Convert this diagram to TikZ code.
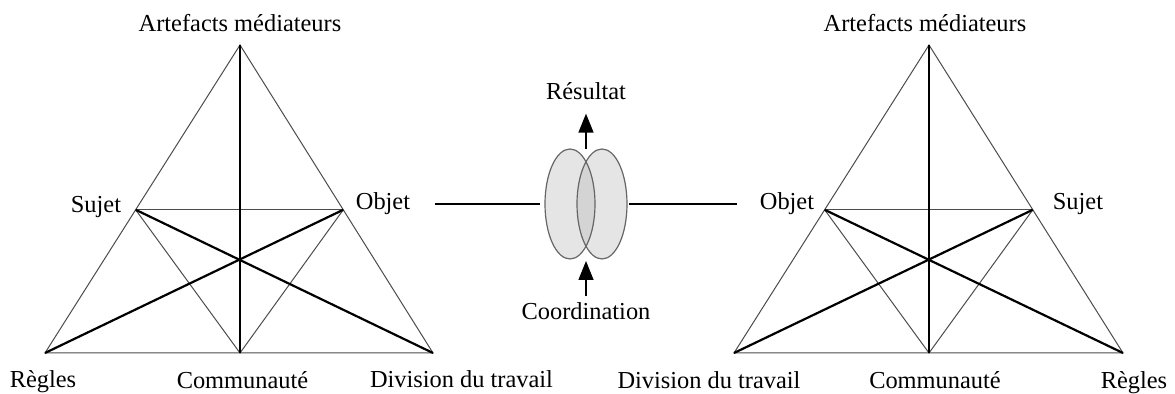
\documentclass[tikz,border=0pt]{standalone}
\usepackage{fontspec}
\setmainfont{Liberation Serif}
\usetikzlibrary{arrows.meta, calc, positioning, shapes.geometric}
\tikzset{
  thinline/.style={draw=black!70,line width=0.5pt},
  thickline/.style={draw=black,line width=1.1pt},
  lbl/.style={anchor=base,inner sep=0pt,font=\fontsize{12.2}{14}\selectfont},
  link/.style={draw=black,line width=0.75pt},
  flow/.style={draw=black,line width=0.75pt,-{Triangle[width=7.5pt,length=9.5pt]}},
  lobe/.style={ellipse,fill=black!10,minimum width=25pt,minimum height=55pt,inner sep=0pt,outer sep=0pt},
  lobeline/.style={draw=black!60,line width=0.6pt},
}
\begin{document}
\begin{tikzpicture}[x=0.5pt,y=-0.5pt]
	    \useasboundingbox (0,0) rectangle (1175,394);
	    % left activity system
	    \coordinate (lA) at (240,45);
	    \coordinate (lR) at (45,353);
	    \coordinate (lD) at (433,353);
	    \coordinate (lC) at (240,353);
	    \coordinate (lS) at ($(lA)!0.535!(lR)$);
	    \coordinate (lO) at ($(lA)!0.535!(lD)$);
	    \draw[thinline] (lA) -- (lR) -- (lD) -- cycle;
	    \draw[thinline] (lS) -- (lO);
	    \draw[thinline] (lS) -- (lC) -- (lO);
	    \draw[thickline] (lA) -- (lC);
	    \draw[thickline] (lS) -- (lD);
	    \draw[thickline] (lO) -- (lR);
	    \node[lbl] (lArt) at (240,32) {Artefacts médiateurs};
	    \node[lbl] (lSuj) at (96,213) {Sujet};
	    \node[lbl] (lObj) at (383,210) {Objet};
	    \node[lbl] (lReg) at (43,388) {Règles};
	    \node[lbl] (lCom) at (242.5,389) {Communauté};
	    \node[lbl] (lDiv) at (461.5,388) {Division du travail};
	    % right activity system
	    \coordinate (rA) at (929,45);
	    \coordinate (rD) at (734,353);
	    \coordinate (rR) at (1123,353);
	    \coordinate (rC) at (929,353);
	    \coordinate (rO) at ($(rA)!0.535!(rD)$);
	    \coordinate (rS) at ($(rA)!0.535!(rR)$);
	    \draw[thinline] (rA) -- (rD) -- (rR) -- cycle;
	    \draw[thinline] (rO) -- (rS);
	    \draw[thinline] (rO) -- (rC) -- (rS);
	    \draw[thickline] (rA) -- (rC);
	    \draw[thickline] (rO) -- (rR);
	    \draw[thickline] (rS) -- (rD);
	    \node[lbl] (rArt) at (925,32) {Artefacts médiateurs};
	    \node[lbl] (rObj) at (787,210) {Objet};
	    \node[lbl] (rSuj) at (1078,210) {Sujet};
	    \node[lbl] (rDiv) at (709,389) {Division du travail};
	    \node[lbl] (rCom) at (935,389) {Communauté};
	    \node[lbl] (rReg) at (1134,389) {Règles};
	    % shared object
	    \node[lobe] (eL) at (570,204) {};
	    \node[lobe] (eR) at (602,204) {};
	    \begin{scope}
	      \clip (eL.center) ellipse [x radius=25, y radius=55];
	      \fill[black!17] (eR.center) ellipse [x radius=25, y radius=55];
	    \end{scope}
	    \draw[lobeline] (eL.center) ellipse [x radius=25, y radius=55];
	    \draw[lobeline] (eR.center) ellipse [x radius=25, y radius=55];
	    \coordinate (eTop) at ($(eL.north)!0.5!(eR.north)$);
	    \coordinate (eBot) at ($(eL.south)!0.5!(eR.south)$);
	    \node[lbl] (res) at (586,100) {Résultat};
	    \node[lbl] (coo) at (586,320) {Coordination};
	    \draw[flow,shorten >=6.5pt] (eTop) -- (res.south);
	    \draw[flow,shorten <=3.3pt,shorten >=1pt] (coo.north) -- (eBot);
	    \draw[link] ([xshift=12pt]lObj.east) -- ([xshift=-2.5pt]lObj.east -| eL.west);
	    \draw[link] ([xshift=1pt]eR.east) -- ([xshift=-11pt]rObj.west |- eR.east);
	\end{tikzpicture}
\end{document}
